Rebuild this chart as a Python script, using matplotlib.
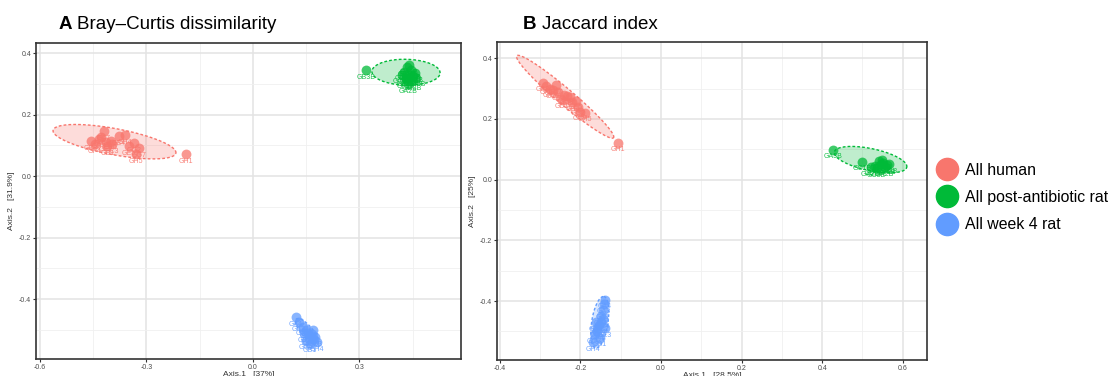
"""
PCoA ordination plots (Bray-Curtis and Jaccard) for human vs rat microbiome samples.

Output:
  - ./out.png
"""

import matplotlib.pyplot as plt
import numpy as np
from matplotlib.lines import Line2D
from matplotlib.ticker import MultipleLocator

plt.rcParams["font.family"] = ["Liberation Sans", "DejaVu Sans"]

GROUPS = ["All human", "All post-antibiotic rat", "All week 4 rat"]
COLORS = ["#F8766D", "#00BA38", "#619CFF"]

# ---- Panel A: Bray-Curtis ----
a_human_x = [-0.456, -0.445, -0.434, -0.428, -0.420, -0.415, -0.410, -0.400, -0.397,
             -0.377, -0.360, -0.350, -0.335, -0.320, -0.330, -0.189]
a_human_y = [0.114, 0.105, 0.120, 0.128, 0.146, 0.110, 0.098, 0.115, 0.104,
             0.130, 0.133, 0.098, 0.107, 0.090, 0.072, 0.072]
a_human_lab = ["GB8", "GF4", "GH3", "GC5", "GA7", "GE2", "GD1", "GF6", "GC3",
               "GB4", "GH4", "GE5", "GG2", "GG7", "GH5", "GH1"]

a_post_x = [0.318, 0.420, 0.425, 0.430, 0.435, 0.440, 0.440, 0.445, 0.450,
            0.448, 0.455, 0.438, 0.430, 0.460]
a_post_y = [0.345, 0.330, 0.340, 0.320, 0.355, 0.360, 0.330, 0.345, 0.325,
            0.310, 0.335, 0.300, 0.315, 0.320]
a_post_lab = ["GB3B", "GC1B", "GD2B", "GE1B", "GF3B", "GA1B", "GH2B", "GG1B",
              "GC3B", "GD3B", "GE3B", "GA2B", "GF1B", "GH3B"]

a_wk4_x = [0.121, 0.130, 0.140, 0.150, 0.155, 0.160, 0.165, 0.170, 0.175,
           0.180, 0.160, 0.150, 0.170, 0.145]
a_wk4_y = [-0.459, -0.475, -0.490, -0.500, -0.510, -0.520, -0.515, -0.530, -0.525,
           -0.540, -0.545, -0.535, -0.500, -0.510]
a_wk4_lab = ["GA4", "GA3", "GA1", "GB4", "GC2", "GD4", "GE1", "GF4", "GG3",
             "GH4", "GB1", "GC4", "GD1", "GE3"]

# ---- Panel B: Jaccard ----
b_human_x = [-0.293, -0.285, -0.275, -0.268, -0.261, -0.255, -0.246, -0.240, -0.233,
             -0.226, -0.220, -0.211, -0.205, -0.201, -0.189, -0.106]
b_human_y = [0.319, 0.310, 0.300, 0.296, 0.312, 0.290, 0.263, 0.280, 0.276,
             0.273, 0.255, 0.260, 0.240, 0.224, 0.220, 0.122]
b_human_lab = a_human_lab

b_post_x = [0.426, 0.500, 0.530, 0.540, 0.545, 0.550, 0.555, 0.560, 0.535,
            0.548, 0.520, 0.565]
b_post_y = [0.099, 0.059, 0.045, 0.060, 0.050, 0.055, 0.040, 0.048, 0.038,
            0.065, 0.040, 0.050]
b_post_lab = ["GA3B", "GC1B", "GD2B", "GE1B", "GF3B", "GA1B", "GH2B", "GG1B",
              "GC3B", "GD3B", "GA2B", "GH3B"]

b_wk4_x = [-0.139, -0.142, -0.145, -0.150, -0.148, -0.155, -0.160, -0.158, -0.165,
           -0.169, -0.152, -0.145, -0.162, -0.140]
b_wk4_y = [-0.395, -0.410, -0.430, -0.450, -0.470, -0.480, -0.490, -0.500, -0.510,
           -0.536, -0.520, -0.460, -0.470, -0.490]
b_wk4_lab = a_wk4_lab

# ellipses: centre, major half-vector, minor half-vector (data units)
a_ellipses = [
    ((-0.390, 0.112), (0.173, -0.037), (0.006, 0.042)),
    ((0.431, 0.338), (0.096, -0.003), (0.002, 0.042)),
    ((0.152, -0.505), (0.030, -0.040), (0.012, 0.012)),
]
b_ellipses = [
    ((-0.238, 0.273), (0.120, -0.135), (0.013, 0.020)),
    ((0.520, 0.066), (0.090, -0.025), (0.0055, 0.0355)),
    ((-0.152, -0.470), (0.010, 0.085), (0.020, -0.004)),
]


def draw_panel(ax, groups, ellipses, xlim, ylim, xmaj, ymaj, xlabel, ylabel):
    t = np.linspace(0, 2 * np.pi, 200)
    for (c, u, v), col in zip(ellipses, COLORS):
        ex = c[0] + u[0] * np.cos(t) + v[0] * np.sin(t)
        ey = c[1] + u[1] * np.cos(t) + v[1] * np.sin(t)
        ax.fill(ex, ey, color=col, alpha=0.25, lw=0, zorder=2)
        ax.plot(ex, ey, color=col, lw=1.0, ls=(0, (2, 1.5)), zorder=3)
    for (xs, ys, labs), col in zip(groups, COLORS):
        ax.scatter(xs, ys, s=50, color=col, alpha=0.75, lw=0, zorder=4)
        for x, y, lab in zip(xs, ys, labs):
            ax.text(x, y - 0.012, lab, color=col, fontsize=5, ha="center",
                    va="top", alpha=0.9, zorder=5)
    ax.set_xlim(*xlim)
    ax.set_ylim(*ylim)
    ax.xaxis.set_major_locator(MultipleLocator(xmaj))
    ax.xaxis.set_minor_locator(MultipleLocator(xmaj / 2))
    ax.yaxis.set_major_locator(MultipleLocator(ymaj))
    ax.yaxis.set_minor_locator(MultipleLocator(ymaj / 2))
    ax.grid(which="major", color="#E3E3E3", lw=1.1, zorder=0)
    ax.grid(which="minor", color="#F0F0F0", lw=0.6, zorder=0)
    ax.set_axisbelow(True)
    ax.tick_params(which="major", length=2.5, width=0.8, color="#333333",
                   labelsize=5, labelcolor="#4D4D4D", pad=1)
    ax.tick_params(which="minor", length=0)
    ax.xaxis.set_major_formatter(lambda v, p: f"{v:.1f}")
    ax.yaxis.set_major_formatter(lambda v, p: f"{v:.1f}")
    for s in ax.spines.values():
        s.set_color("#333333")
        s.set_linewidth(1.2)
    ax.set_xlabel(xlabel, fontsize=6, color="#333333", labelpad=0)
    ax.set_ylabel(ylabel, fontsize=6, color="#333333", labelpad=3)


fig = plt.figure(figsize=(11.12, 3.76), dpi=100)
ax_a = fig.add_axes([0.0324, 0.0452, 0.3822, 0.8404])
ax_b = fig.add_axes([0.447, 0.0426, 0.3866, 0.8454])

draw_panel(
    ax_a,
    [(a_human_x, a_human_y, a_human_lab),
     (a_post_x, a_post_y, a_post_lab),
     (a_wk4_x, a_wk4_y, a_wk4_lab)],
    a_ellipses, (-0.611, 0.586), (-0.595, 0.433), 0.3, 0.2,
    "Axis.1   [37%]", "Axis.2   [31.9%]",
)
draw_panel(
    ax_b,
    [(b_human_x, b_human_y, b_human_lab),
     (b_post_x, b_post_y, b_post_lab),
     (b_wk4_x, b_wk4_y, b_wk4_lab)],
    b_ellipses, (-0.407, 0.66), (-0.594, 0.453), 0.2, 0.2,
    "Axis.1   [28.5%]", "Axis.2   [25%]",
)

# panel titles
fig.text(0.053, 0.923, "A", fontsize=13.5, fontweight="bold", va="baseline")
fig.text(0.0695, 0.923, "Bray\u2013Curtis dissimilarity", fontsize=13.5, va="baseline")
fig.text(0.4703, 0.923, "B", fontsize=13.5, fontweight="bold", va="baseline")
fig.text(0.4875, 0.923, "Jaccard index", fontsize=13.5, va="baseline")

handles = [Line2D([], [], ls="", marker="o", markersize=16, color=c) for c in COLORS]
fig.legend(handles, GROUPS, loc="center left", bbox_to_anchor=(0.836, 0.475),
           frameon=False, fontsize=11.4, handletextpad=0.45, labelspacing=0.78,
           handlelength=1.4, borderaxespad=0)

fig.savefig("out.png", dpi=100)
